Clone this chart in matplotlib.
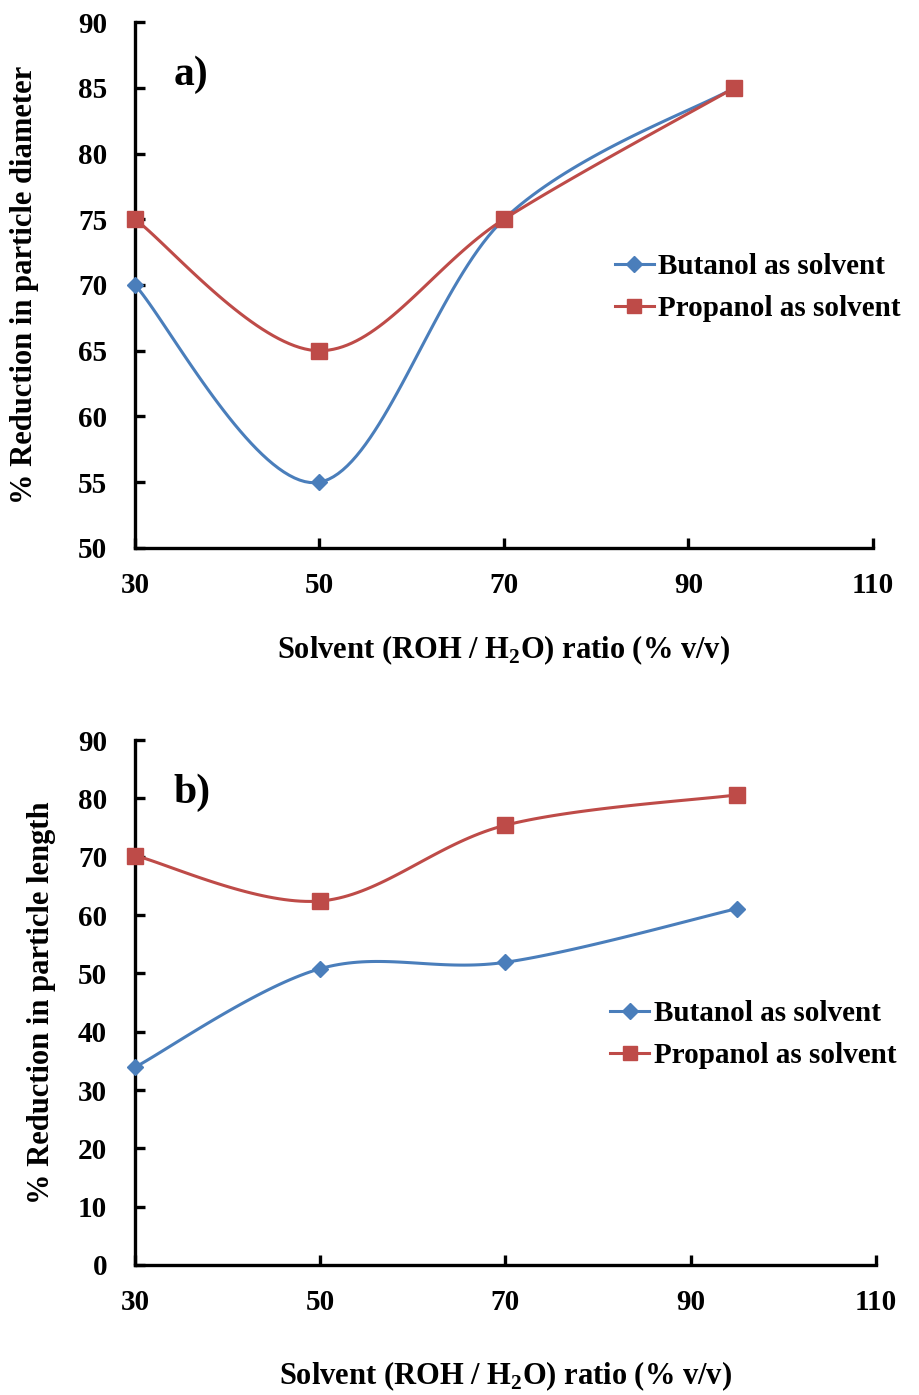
import numpy as np
import matplotlib.pyplot as plt

plt.rcParams['font.family'] = ['Liberation Serif', 'DejaVu Serif']
plt.rcParams['font.weight'] = 'bold'
plt.rcParams['mathtext.fontset'] = 'custom'
plt.rcParams['mathtext.rm'] = 'Liberation Serif:bold'
plt.rcParams['mathtext.bf'] = 'Liberation Serif:bold'

ratio = [30, 50, 70, 95]

# a) reduction in particle diameter
diam_butanol = [70, 55, 75, 85]
diam_propanol = [75, 65, 75, 85]

# b) reduction in particle length
len_butanol = [33.9, 50.8, 51.9, 61.1]
len_propanol = [70.2, 62.4, 75.4, 80.6]

x_ticks = [30, 50, 70, 90, 110]
blue = '#4A7EBB'
red = '#BE4B48'


def smooth(xs, ys, n=40):
    # Catmull-Rom style smoothing, like a spreadsheet "smoothed line"
    p = np.column_stack([xs, ys]).astype(float)
    p = np.vstack([p[0], p, p[-1]])
    out = []
    for i in range(1, len(p) - 2):
        p0, p1, p2, p3 = p[i - 1], p[i], p[i + 1], p[i + 2]
        c1 = p1 + (p2 - p0) / 6
        c2 = p2 - (p3 - p1) / 6
        t = np.linspace(0, 1, n)[:, None]
        seg = ((1 - t) ** 3) * p1 + 3 * ((1 - t) ** 2) * t * c1 + 3 * (1 - t) * t ** 2 * c2 + t ** 3 * p2
        out.append(seg if i == 1 else seg[1:])
    out = np.vstack(out)
    return out[:, 0], out[:, 1]


def draw(ax, yb, yp, ylim, yticks, ylabel, tag, leg_anchor, ylab_x, xlab_y):
    sx, sy = smooth(ratio, yb)
    ax.plot(sx, sy, color=blue, lw=2.2, clip_on=False)
    ax.plot(ratio, yb, ls='none', marker='D', ms=8, color=blue, clip_on=False, zorder=5)
    sx, sy = smooth(ratio, yp)
    ax.plot(sx, sy, color=red, lw=2.2, clip_on=False)
    ax.plot(ratio, yp, ls='none', marker='s', ms=11, color=red, clip_on=False, zorder=5)
    # proxy handles for the legend
    hb, = ax.plot([], [], color=blue, lw=2.2, marker='D', ms=8)
    hp, = ax.plot([], [], color=red, lw=2.2, marker='s', ms=10)
    ax.legend([hb, hp], ['Butanol as solvent', 'Propanol as solvent'], frameon=False,
              fontsize=21, handlelength=1.35, handletextpad=0.15, labelspacing=0.5,
              loc='center left', bbox_to_anchor=leg_anchor, borderaxespad=0, borderpad=0)

    ax.set_xlim(30, 110)
    ax.set_ylim(*ylim)
    ax.set_xticks(x_ticks)
    ax.set_yticks(yticks)
    for s in ['top', 'right']:
        ax.spines[s].set_visible(False)
    for s in ['left', 'bottom']:
        ax.spines[s].set_linewidth(2.4)
    ax.tick_params(direction='in', length=7, width=2.4, labelsize=21)
    ax.tick_params(axis='y', pad=20)
    ax.tick_params(axis='x', pad=17)
    ax.set_ylabel(ylabel, fontsize=22, fontweight='bold')
    ax.yaxis.set_label_coords(ylab_x, 0.5)
    ax.set_xlabel(r'Solvent (ROH / H$_2$O) ratio (% v/v)', fontsize=22, fontweight='bold')
    ax.xaxis.set_label_coords(0.5, xlab_y)
    ax.text(0.052, 0.9, tag, transform=ax.transAxes, fontsize=30, fontweight='bold',
            ha='left', va='center')


fig = plt.figure(figsize=(9.2, 13.95), dpi=100)
ax1 = fig.add_axes([0.1467, 0.6072, 0.802, 0.377])
ax2 = fig.add_axes([0.1467, 0.0932, 0.8054, 0.3763])

draw(ax1, diam_butanol, diam_propanol, (50, 90), range(50, 91, 5),
     '% Reduction in particle diameter', 'a)', (0.65, 0.495), -0.13, -0.162)
draw(ax2, len_butanol, len_propanol, (0, 90), range(0, 91, 10),
     '% Reduction in particle length', 'b)', (0.641, 0.439), -0.106, -0.18)

fig.savefig('out.png', dpi=100)
